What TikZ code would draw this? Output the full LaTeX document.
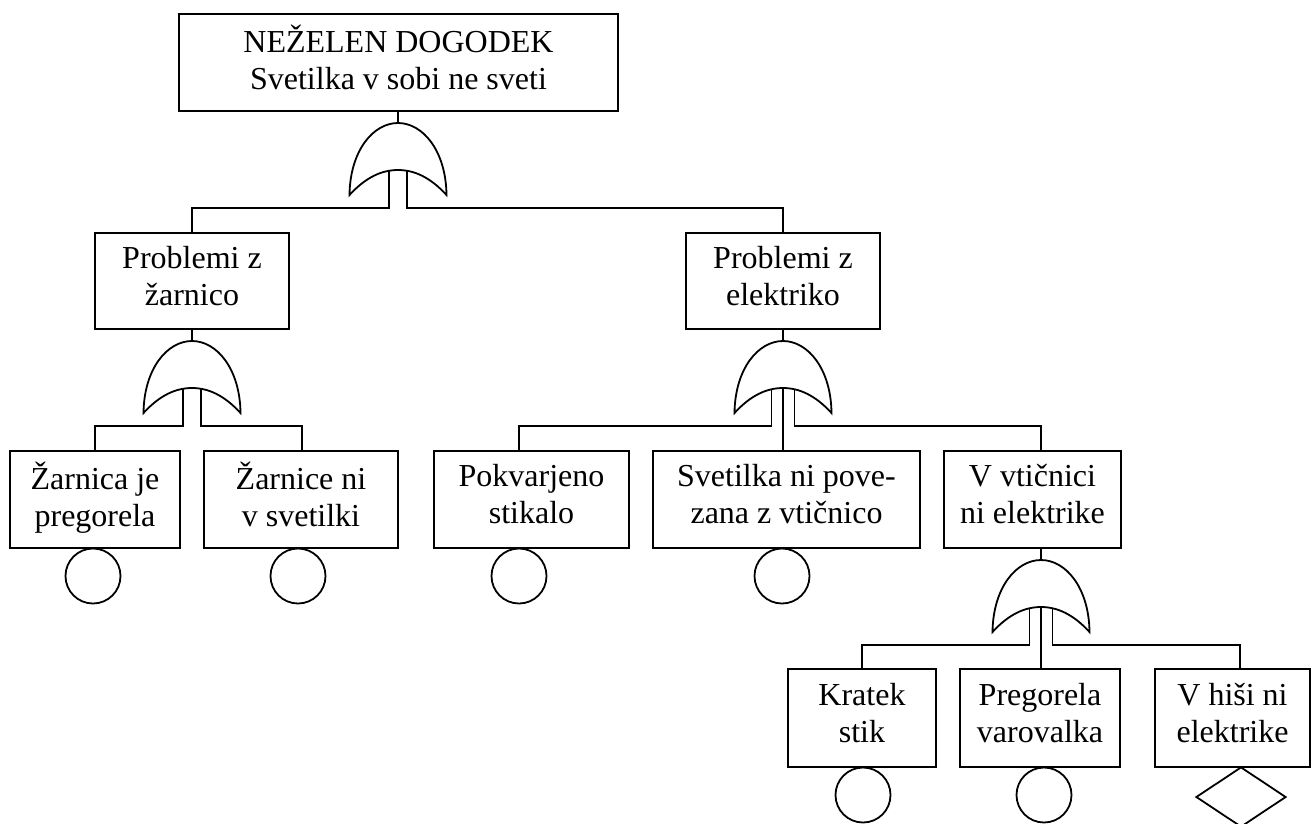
\documentclass[tikz,border=0pt]{standalone}
\usepackage{fontspec}
\setmainfont{Liberation Serif}
\usetikzlibrary{shapes.geometric}

\newcommand\topstrut{\rule{0pt}{29pt}}
\newcommand\botstrut{\rule[-11pt]{0pt}{11pt}}

\tikzset{
  event/.style={draw, line width=1.8pt, rectangle, align=center, inner sep=0pt,
                font=\fontsize{32}{37}\selectfont,
                execute at begin node=\topstrut, execute at end node=\botstrut},
  basicevent/.style={draw, line width=1.8pt, circle, minimum size=55pt, inner sep=0pt},
  undeveloped/.style={draw, line width=1.8pt, diamond, minimum width=90pt,
                      minimum height=60pt, inner sep=0pt},
  gateline/.style={line width=1.8pt, line join=miter},
  wire/.style={line width=1.8pt},
}

% OR gate: #1 name, #2 centre x, #3 base y, #4 offset of the input legs
\newcommand\orgate[4]{%
  \begin{scope}[shift={(#2,#3)}]
    \draw[gateline] (-48.5,0) .. controls (-48,-44) and (-25,-72) .. (0,-72)
      .. controls (25,-72) and (48,-44) .. (48.5,0)
      .. controls (32,-18) and (16,-25) .. (0,-25)
      .. controls (-16,-25) and (-32,-18) .. (-48.5,0) -- cycle;
    \coordinate (#1-out) at (0,-72);
    \coordinate (#1-mid) at (0,-25);
    \coordinate (#1-l) at (-#4,-24);
    \coordinate (#1-r) at (#4,-24);
    \coordinate (#1-lb) at (-#4,13);
    \coordinate (#1-rb) at (#4,13);
  \end{scope}}

\begin{document}
\begin{tikzpicture}[x=1pt,y=-1pt]
\useasboundingbox (0,0) rectangle (1313,823);

% top event
\node[event, minimum width=439pt, minimum height=97pt] (top) at (398.5,62.5)
  {NEŽELEN DOGODEK\\Svetilka v sobi ne sveti};

% intermediate events
\node[event, minimum width=194pt, minimum height=96pt] (p1) at (192,281) {Problemi z\\žarnico};
\node[event, minimum width=194pt, minimum height=96pt] (p2) at (783,281) {Problemi z\\elektriko};

\node[event, minimum width=170pt, minimum height=97pt] (b1) at (95,499.5) {Žarnica je\\pregorela};
\node[event, minimum width=194pt, minimum height=97pt] (b2) at (301,499.5) {Žarnice ni\\v svetilki};
\node[event, minimum width=195pt, minimum height=97pt] (b3) at (531.5,499.5) {Pokvarjeno\\stikalo};
\node[event, minimum width=267pt, minimum height=97pt] (b4) at (786.5,499.5) {Svetilka ni pove-\\zana z vtičnico};
\node[event, minimum width=177pt, minimum height=97pt] (b5) at (1032.5,499.5) {V vtičnici\\ni elektrike};

\node[event, minimum width=148pt, minimum height=98pt] (c1) at (862,718) {Kratek\\stik};
\node[event, minimum width=160pt, minimum height=98pt] (c2) at (1040,718) {Pregorela\\varovalka};
\node[event, minimum width=155pt, minimum height=98pt] (c3) at (1232.5,718) {V hiši ni\\elektrike};

% basic and undeveloped events
\node[basicevent] (e1) at (93,576) {};
\node[basicevent] (e2) at (298,576) {};
\node[basicevent] (e3) at (519,576) {};
\node[basicevent] (e4) at (782,576) {};
\node[basicevent] (e5) at (863,795) {};
\node[basicevent] (e6) at (1044,795) {};
\node[undeveloped] (d1) at (1241,797) {};

% gates
\orgate{g0}{398}{195}{9}
\orgate{g1}{192}{413}{9}
\orgate{g2}{783}{413}{11.5}
\orgate{g3}{1041}{632}{11.5}

% connections
\draw[wire] (top.south -| g0-out) -- (g0-out);
\draw[wire] (g0-l) -- (g0-lb) -| (p1.north);
\draw[wire] (g0-r) -- (g0-rb) -| (p2.north);

\draw[wire] (p1.south) -- (g1-out);
\draw[wire] (g1-l) -- (g1-lb) -| (b1.north);
\draw[wire] (g1-r) -- (g1-rb) -| ([xshift=1pt]b2.north);

\draw[wire] (p2.south) -- (g2-out);
\draw[wire] (g2-l) -- (g2-lb) -| ([xshift=-12.5pt]b3.north);
\draw[wire] (g2-mid) -- (b4.north -| g2-mid);
\draw[wire] (g2-r) -- (g2-rb) -| ([xshift=8.5pt]b5.north);

\draw[wire] (b5.south -| g3-out) -- (g3-out);
\draw[wire] (g3-l) -- (g3-lb) -| (c1.north);
\draw[wire] (g3-mid) -- (c2.north -| g3-mid);
\draw[wire] (g3-r) -- (g3-rb) -| ([xshift=7.5pt]c3.north);
\end{tikzpicture}
\end{document}
